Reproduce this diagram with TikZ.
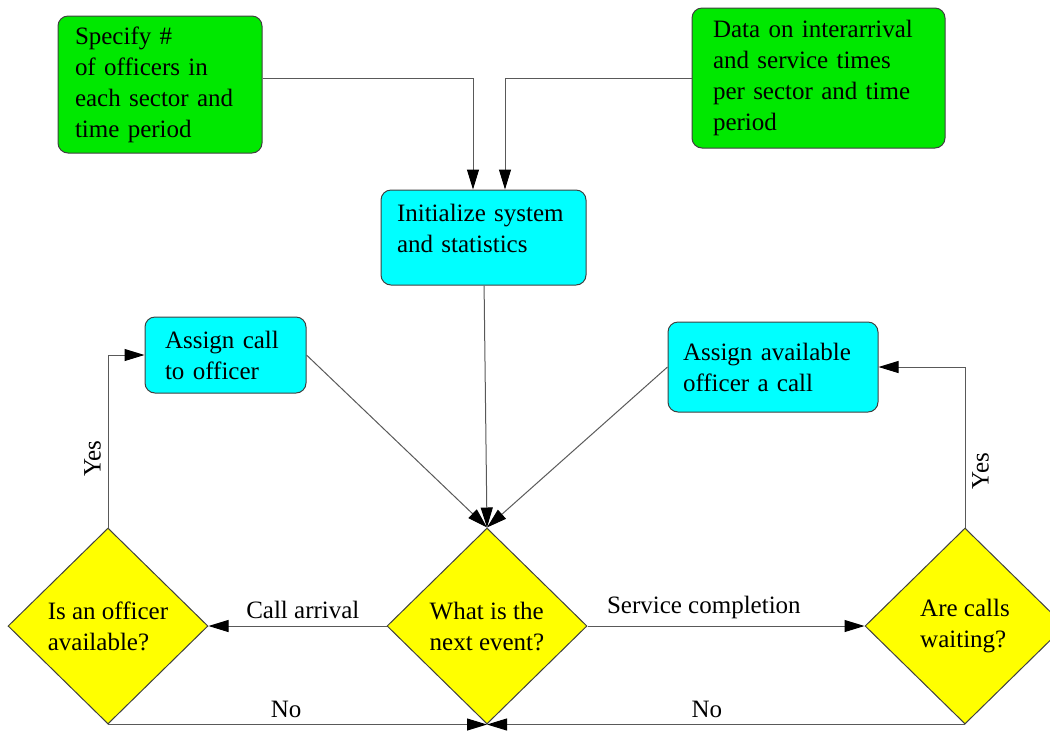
\documentclass[tikz,border=0pt]{standalone}
\usepackage{fontspec}
\setmainfont{Liberation Serif}
\usetikzlibrary{arrows.meta, positioning, shapes.geometric, calc}
\definecolor{inputgreen}{RGB}{0,232,0}
\definecolor{stepcyan}{RGB}{0,255,255}
\definecolor{askyellow}{RGB}{255,255,0}
\begin{document}
\begin{tikzpicture}[
		x=0.5pt, y=-0.5pt,
		every node/.style={font=\fontsize{12.5pt}{15.5pt}\selectfont},
		inbox/.style={rectangle, rounded corners=5pt, draw=black!75, fill=inputgreen, align=left},
		stepbox/.style={rectangle, rounded corners=5pt, draw=black!75, fill=stepcyan, align=left},
		ask/.style={diamond, aspect=1, draw=black!75, fill=askyellow, inner sep=0pt,
			minimum width=100pt, minimum height=98pt, align=left},
		->, >={Triangle[length=10pt,width=6pt,color=black]}, draw=black!65, line width=0.5pt
		]
		\useasboundingbox (0,0) rectangle (1050,730);
		
		% Inputs
		\node[inbox, minimum height=68.5pt, inner xsep=8.5pt, text width=85pt] at (160,84.5) (officers) {Specify \#\\of officers in\\each sector~and\\time period};
		\node[inbox, minimum height=70pt, inner xsep=10.5pt, text width=105.5pt] at (818.5,78) (times) {Data on interarrival\\and service times\\per sector and~time\\period};
		\node[stepbox, minimum height=47.5pt, inner xsep=8pt, text width=86.5pt, text depth=25pt] at (483.5,237.5) (init) {Initialize~system\\and statistics};
		
		% Actions
		\node[stepbox, minimum height=38pt, inner xsep=10pt, text width=60.5pt] at (225.5,355) (assigncall) {Assign~call\\to officer};
		\node[stepbox, minimum height=45pt, inner xsep=7.5pt, text width=90pt] at (773,367) (assignofficer) {Assign~available\\officer a call};
		
		% Decisions
		\node[ask] at (487,626) (nextevent) {What is the\\next event?};
		\node[ask] at (108,626) (officerfree) {Is an officer\\available?};
		\node[ask] at (965,626) (callswait) {Are calls\\waiting?};
		
		\coordinate (feed) at (0,78);
		\draw (officers.east |- feed) -| ([xshift=-5.25pt]init.north);
		\draw (times.west |- feed) -| ([xshift=10.75pt]init.north);
		\draw (init) -- (nextevent.north);
		\draw (assigncall.east) -- (nextevent.north);
		\draw (assignofficer.west) -- (nextevent.north);
		\draw (nextevent.west) -- node[above, pos=0.47] {Call arrival} (officerfree.east);
		\draw (nextevent.east) -- node[above, pos=0.42] {Service completion} (callswait.west);
		\draw (officerfree.north) |- node[pos=0.2, rotate=90, above] {Yes} (assigncall.west);
		\draw (callswait.north) |- node[pos=0.2, rotate=90, below=4pt] {Yes} (assignofficer.east);
		\draw (officerfree.south) -- node[above, pos=0.47] {No} (nextevent.south);
		\draw (callswait.south) -- node[above, pos=0.54] {No} (nextevent.south);
		
	\end{tikzpicture}
\end{document}
